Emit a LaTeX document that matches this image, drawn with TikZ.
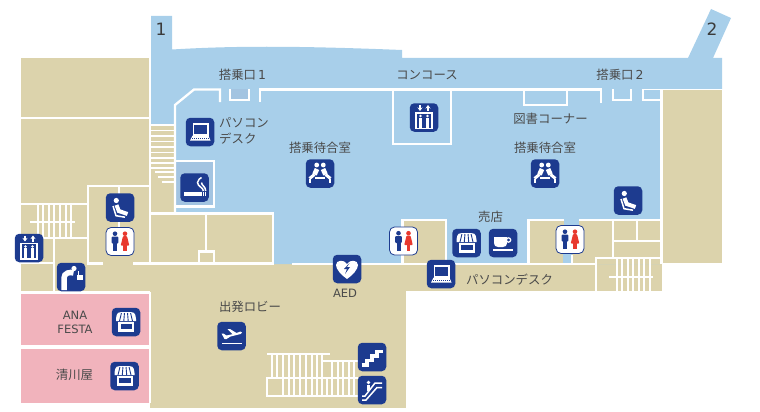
\documentclass[tikz,border=0pt]{standalone}
\usepackage{fontspec}
\usepackage{tikz}
\usetikzlibrary{arrows.meta}
\setmainfont{Noto Sans CJK JP}
\newfontfamily\latinfont{DejaVu Sans}

\definecolor{skyblue}{HTML}{A8CFEA}
\definecolor{roomblue}{HTML}{A3C4E1}
\definecolor{sand}{HTML}{DCD3AC}
\definecolor{shoppink}{HTML}{F1B3BC}
\definecolor{navy}{HTML}{1D3B8F}
\definecolor{wcred}{HTML}{E8392E}
\definecolor{labelgray}{HTML}{4A4A4A}

\tikzset{
    wall/.style={draw=white, line width=2.3pt},
    thinwall/.style={draw=white, line width=1.7pt},
    label/.style={text=labelgray, font=\fontsize{12.4}{16}\selectfont, inner sep=0pt, align=left},
    latinlabel/.style={text=labelgray, font=\fontsize{11.5}{14}\selectfont\latinfont, inner sep=0pt, align=center},
    gatenum/.style={text=labelgray!80!black, font=\fontsize{17}{17}\selectfont\latinfont, inner sep=0pt},
    iconbox/.style={fill=navy, rounded corners=4.5pt, minimum size=28.5pt, inner sep=0pt},
    wcbox/.style={fill=white, draw=navy, line width=0.8pt, rounded corners=5pt, minimum size=28pt, inner sep=0pt},
    laptop/.pic={
        \draw[white, line width=1.6pt] (-6.7,-8) rectangle (8,3);
        \fill[white] (-7.5,3.6) -- (8.5,3.6) -- (10.5,8.5) -- (-10,8.5) -- cycle;
        \draw[navy, line width=0.5pt, dash pattern=on 1pt off 1pt] (-8,5.8) -- (8.5,5.8);
    },
    smoke/.pic={
        \fill[white] (-10.5,4.5) rectangle (7,8.5);
        \fill[white] (8.3,4.5) rectangle (9.5,8.5);
        \fill[white] (10.6,4.5) rectangle (11.8,8.5);
        \draw[white, line width=1.5pt] (8.9,3.5) .. controls (9,0) and (3,-1) .. (3,-5) .. controls (3,-8) and (6,-9) .. (7,-10);
        \draw[white, line width=1.5pt] (11.2,3.5) .. controls (11.2,-1) and (7,-2) .. (7,-5);
    },
    lift/.pic={
        \draw[white, line width=1.2pt, -{Stealth[length=3.5pt,width=5pt]}] (-4,-12.5) -- (-4,-6.5);
        \draw[white, line width=1.2pt, -{Stealth[length=3.5pt,width=5pt]}] (4,-6.5) -- (4,-12.5);
        \draw[white, line width=1.7pt] (-8,-4.5) rectangle (8,11);
        \foreach \px in {-3.5,3.5} {
            \fill[white] (\px,-1.5) circle (1.4);
            \fill[white] (\px-1.4,0.2) rectangle (\px+1.4,10);
        }
    },
    waiting/.pic={
        \fill[white] (-3.3,-8.5) circle (2.4);
        \fill[white] (3.3,-8.5) circle (2.4);
        \draw[white, line width=4.8pt] (-3,-4.5) -- (-5.5,1);
        \draw[white, line width=4.8pt] (3,-4.5) -- (5.5,1);
        \draw[white, line width=3pt] (-5.5,1) -- (-10.5,5);
        \draw[white, line width=3pt] (5.5,1) -- (10.5,5);
        \draw[white, line width=1.5pt] (-5,4.5) -- (5,4.5);
        \draw[white, line width=1.5pt] (-10,5) -- (-10,9) (10,5) -- (10,9);
    },
    seat/.pic={
        \fill[white] (-3.7,-7) circle (2.6);
        \draw[white, line width=4pt] (-3.5,-2.5) -- (-1.2,3.5) -- (7.5,6.5);
        \draw[white, line width=1.5pt] (-7,-1.5) -- (-4,8.2) -- (5,9.7);
    },
    wc/.pic={
        \fill[navy] (-5,-7.8) circle (2.3);
        \fill[navy, rounded corners=1pt] (-8.3,-5) rectangle (-1.7,2);
        \fill[navy] (-7,1) rectangle (-3,9.5);
        \fill[wcred] (5,-7.8) circle (2.3);
        \fill[wcred, rounded corners=0.8pt] (3,-5.3) -- (7,-5.3) -- (9.3,4) -- (0.7,4) -- cycle;
        \fill[wcred] (3.3,3.5) rectangle (6.7,9.5);
    },
    fountain/.pic={
        \fill[white] (3,-8.5) circle (2.6);
        \draw[white, line width=5.5pt] (-7,13) -- (-7,1) .. controls (-7,-4) and (-1,-5.5) .. (2.5,-4);
        \fill[white] (5.5,-1.7) rectangle (12,3.4);
        \draw[white, line width=1.2pt] (7.5,-1) -- (7.5,-6);
    },
    shop/.pic={
        \fill[white] (-8,0) rectangle (8,10);
        \fill[navy] (-5.5,2.3) rectangle (6,7);
        \fill[white] (-10,-1) -- (-10,-3) .. controls (-9,-10) .. (0,-10) .. controls (9,-10) .. (10,-3) -- (10,-1) -- cycle;
        \foreach \sx in {-6.5,-2.2,2.2,6.5} {
            \draw[navy, line width=0.9pt] (0.7*\sx,-9) -- (\sx,-1);
        }
    },
    cup/.pic={
        \fill[white] (-9,-6) -- (4,-6) -- (4,-1) .. controls (4,3) and (2,4) .. (0,4) -- (-5,4) .. controls (-7,4) and (-9,3) .. (-9,-1) -- cycle;
        \draw[white, line width=1.2pt] (5.5,-3) circle (2.2);
        \fill[white] (-10,6) rectangle (10,7.5);
    },
    aedheart/.pic={
        \fill[white] (0,10) .. controls (-6,6) and (-11,0) .. (-11,-4) .. controls (-11,-9) and (-3,-10) .. (0,-5) .. controls (3,-10) and (11,-9) .. (11,-4) .. controls (11,0) and (6,6) .. (0,10) -- cycle;
        \fill[navy] (2.5,-6) -- (-3,0) -- (0,0) -- (-2,5) -- (3,-2) -- (0,-2) -- cycle;
    },
    plane/.pic={
        \fill[white] (-10,6.5) rectangle (10,8);
        \fill[white] (-10,-2.5) -- (-8,-2.5) -- (-5,-0.5) -- (1,-1.8) -- (-4,-7) -- (-1.5,-7) -- (5,-3) -- (9,-4.5) .. controls (11,-4.5) and (11,-2.5) .. (9,-2) -- (-1,0.5) -- (-5,3) -- (-7,3) -- cycle;
    },
    stairs/.pic={
        \draw[white, line width=3.2pt] (-10.5,8) -- (-5,8) -- (-5,3.5) -- (0,3.5) -- (0,-1) -- (5,-1) -- (5,-5.5) -- (10.5,-5.5);
    },
    escal/.pic={
        \draw[white, line width=1.5pt] (-10,10) -- (-6,10) -- (5,-2.5) -- (10,-2.5);
        \draw[white, line width=1.5pt] (-10,6) -- (-7,6) -- (3,-7) -- (10,-7);
        \fill[white] (-3.5,-7.5) circle (1.8);
        \draw[white, line width=2.5pt] (-3.5,-5) -- (-3.5,1);
    },
}

\begin{document}
\begin{tikzpicture}[x=1pt, y=-1pt]
    \useasboundingbox (0,0) rectangle (760,412);

    % floor areas
    \fill[sand] (21,58.5) rectangle (150,293);
    \fill[sand] (150,120) rectangle (176,264);
    \fill[sand] (150,213) rectangle (405.5,408);
    \fill[sand] (405,264) rectangle (662,291);
    \fill[sand] (662,90) rectangle (722,262.5);
    \fill[skyblue] (151,16) -- (172,16) -- (172,49.5) .. controls (230,46) and (290,45.5) .. (402,50)
        -- (402,58) -- (688,58) -- (711,9) -- (731,18) -- (713,58) -- (722,58) -- (722,89) -- (661,89)
        -- (661,264) -- (274,264) -- (274,213) -- (176,213) -- (176,125) -- (151,125) -- cycle;
    \fill[sand] (402,220) rectangle (446,264);
    \fill[sand] (528,220) rectangle (661,264);
    \fill[skyblue] (564,219) rectangle (579,226);
    \fill[skyblue] (563,254) rectangle (572,264);
    \fill[roomblue] (176,161) rectangle (214,206);
    \fill[roomblue] (230,89) rectangle (249,100);
    \fill[shoppink] (21,294) rectangle (149,345);
    \fill[shoppink] (21,349) rectangle (149,402.7);

    % walls, top row
    \draw[wall] (175,213) -- (175,105) -- (194,89.5) -- (220,89.5) -- (220,102);
    \draw[wall] (230,89) -- (230,100) -- (249,100) -- (249,89);
    \draw[wall] (260,102) -- (260,89.5) -- (601,89.5) -- (601,103);
    \draw[wall] (613,89) -- (613,100) -- (631,100) -- (631,89);
    \draw[wall] (643,89) -- (643,100) -- (661,100);
    \draw[thinwall] (643,89.5) -- (722,89.5);
    \draw[wall] (661.5,89) -- (661.5,264);
    \draw[wall] (524,90) -- (524,105) -- (567,105) -- (567,90);
    \draw[wall] (393,90) -- (393,144) -- (451,144) -- (451,90);
    \draw[wall] (176,161) -- (214,161) -- (214,206.5) -- (176,206.5);

    % walls, left block
    \draw[wall] (21,118) -- (150,118);
    \draw[wall] (150,58) -- (150,264);
    \draw[wall] (150,292) -- (150,403);
    \draw[wall] (21,292.5) -- (150,292.5);
    \draw[wall] (150,213.5) -- (273,213.5) -- (273,264);
    \draw[wall] (206,213) -- (206,251);
    \draw[wall] (199,264) -- (199,251.5) -- (214,251.5) -- (214,264);
    \draw[wall] (133,263.5) -- (274,263.5);
    \draw[wall] (103,263.5) -- (88,263.5) -- (88,186) -- (150,186);
    \draw[wall] (119,186) -- (119,256);
    \draw[wall] (21,204) -- (88,204);
    \draw[wall] (37,238) -- (88,238);
    \draw[wall] (54,238) -- (54,292);
    \draw[wall] (21,263) -- (54,263);

    % walls, right block
    \draw[wall] (292,264) -- (595,264);
    \draw[wall] (402.5,264) -- (402.5,220) -- (446,220) -- (446,264);
    \draw[wall] (564,220) -- (528.5,220) -- (528.5,264);
    \draw[wall] (579,220) -- (661,220);
    \draw[wall] (613,220) -- (613,258);
    \draw[wall] (637,220) -- (637,241);
    \draw[wall] (613,241) -- (661,241);
    \draw[wall] (572,255) -- (572,264);
    \draw[wall] (596,291) -- (596,258) -- (661,258);

    % stairs
    \foreach \sy in {125,130.6,136,141.6,147,152.6,158,163.3,168} {
        \draw[thinwall] (151,\sy) -- (174,\sy);
    }
    \draw[thinwall] (155,171.7) -- (174,171.7);
    \draw[thinwall] (158,176.7) -- (174,176.7);
    \draw[thinwall] (162,181.7) -- (174,181.7);
    \foreach \sx in {37.7,43.3,49,54.3,60,65.7,70.7} {
        \draw[thinwall] (\sx,204) -- (\sx,238);
    }
    \draw[wall] (30,222) -- (75,222);
    \foreach \sx in {617,622,628,633,639,644,650} {
        \draw[thinwall] (\sx,258) -- (\sx,291);
    }
    \draw[wall] (609,276.7) -- (653,276.7);
    \draw[wall] (267,354.3) -- (330,354.3);
    \draw[wall] (322,354) -- (322,378);
    \draw[wall] (322,361) -- (358,361);
    \foreach \sx in {272,277,283,289,294,300,306,312,317} {
        \draw[thinwall] (\sx,354) -- (\sx,378);
    }
    \foreach \sx in {332,338,343,349,354} {
        \draw[thinwall] (\sx,361) -- (\sx,378);
    }
    \draw[wall] (358,378) -- (267,378) -- (267,396) -- (358,396);
    \foreach \sx in {283,289,294,300,306,312,317,322,327,332,338,343,349,354} {
        \draw[thinwall] (\sx,378) -- (\sx,396);
    }

    % texts
    \node[gatenum] (gate1) at (161,29) {1};
    \node[gatenum] (gate2) at (712,29) {2};
    \node[label] (boardone) at (242.5,75) {搭乗口\,{\latinfont 1}};
    \node[label] (boardtwo) at (620,75) {搭乗口\,{\latinfont 2}};
    \node[label] (concourse) at (427,75) {コンコース};
    \node[label, anchor=west] (pcdeskone) at (219,131) {パソコン\\デスク};
    \node[label] (waitone) at (320,148) {搭乗待合室};
    \node[label] (waittwo) at (545,148) {搭乗待合室};
    \node[label] (library) at (550.5,119) {図書コーナー};
    \node[label] (kiosk) at (490.5,217) {売店};
    \node[latinlabel] (aedtext) at (345,293.5) {AED};
    \node[label] (pcdesktwo) at (509.5,280) {パソコンデスク};
    \node[label] (lobby) at (250,307) {出発ロビー};
    \node[latinlabel] (festa) at (75,322) {ANA\\FESTA};
    \node[label] (seikawa) at (74.5,375) {清川屋};

    % icons
    \node[iconbox] (pcone) at (200,132) {};
    \pic at (pcone) {laptop};
    \node[iconbox] (smoking) at (194.5,187.5) {};
    \pic at (smoking) {smoke};
    \node[iconbox] (seatleft) at (120,207.5) {};
    \pic at (seatleft) {seat};
    \node[wcbox] (wcleft) at (120,241.5) {};
    \pic at (wcleft) {wc};
    \node[iconbox] (liftleft) at (29,248) {};
    \pic at (liftleft) {lift};
    \node[iconbox] (water) at (71,277) {};
    \pic at (water) {fountain};
    \node[iconbox] (shopana) at (126,322) {};
    \pic at (shopana) {shop};
    \node[iconbox] (shopseikawa) at (124.5,376) {};
    \pic at (shopseikawa) {shop};
    \node[iconbox] (departure) at (231.5,336) {};
    \pic at (departure) {plane};
    \node[iconbox] (aedicon) at (347,269) {};
    \pic at (aedicon) {aedheart};
    \node[wcbox] (wcmid) at (403.5,241) {};
    \pic at (wcmid) {wc};
    \node[iconbox] (shopmid) at (466.5,243) {};
    \pic at (shopmid) {shop};
    \node[iconbox] (coffee) at (503,243) {};
    \pic at (coffee) {cup};
    \node[iconbox] (pctwo) at (441,274) {};
    \pic at (pctwo) {laptop};
    \node[iconbox] (stairicon) at (372,357) {};
    \pic at (stairicon) {stairs};
    \node[iconbox] (escicon) at (372,390) {};
    \pic at (escicon) {escal};
    \node[iconbox] (loungeone) at (320,173.5) {};
    \pic at (loungeone) {waiting};
    \node[iconbox] (loungetwo) at (545,173.5) {};
    \pic at (loungetwo) {waiting};
    \node[iconbox] (liftmid) at (424,117.5) {};
    \pic at (liftmid) {lift};
    \node[iconbox] (seatright) at (628,200.5) {};
    \pic at (seatright) {seat};
    \node[wcbox] (wcright) at (570,239.5) {};
    \pic at (wcright) {wc};
\end{tikzpicture}
\end{document}
